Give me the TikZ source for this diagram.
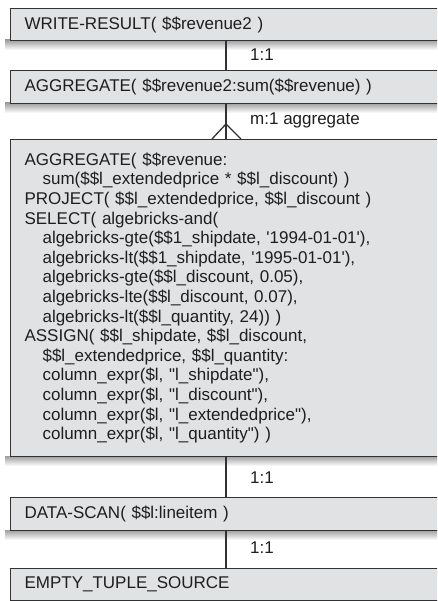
\documentclass[tikz,border=0pt]{standalone}
\usepackage{fontspec}
\setmainfont{Liberation Sans}[Ligatures=TeXOff]
\definecolor{boxfill}{RGB}{225,226,228}
\definecolor{boxline}{RGB}{50,50,52}
\definecolor{txt}{RGB}{30,30,30}
\begin{document}
\begin{tikzpicture}[x=1pt,y=-1pt,
  opbox/.style={draw=boxline, line width=1.1pt, fill=boxfill, anchor=north west,
    minimum width=440pt, text width=420pt, align=left, inner xsep=14pt, inner ysep=0pt,
    font=\fontsize{17}{19.6}\selectfont, text=txt},
  lbl/.style={anchor=west, inner sep=0pt, font=\fontsize{17}{18}\selectfont, text=txt},
  conn/.style={draw=boxline, line width=1.3pt},
  shadowband/.style={top color=black!38, bottom color=white}
]
\useasboundingbox (0,0) rectangle (437,601);
\clip (0,0) rectangle (437,601);
% shadows
\shade[shadowband] (5,40) rectangle (450,50);
\shade[shadowband] (5,103) rectangle (450,113);
\shade[shadowband] (5,456) rectangle (450,466);
\shade[shadowband] (5,530) rectangle (450,540);
\coordinate (c) at (226,0);
% boxes
\node[opbox, minimum height=32pt] (b1) at (10,8) {WRITE-RESULT( \$\$revenue2 )};
\node[opbox, minimum height=33pt] (b2) at (10,70) {AGGREGATE( \$\$revenue2:sum(\$\$revenue) )};
\node[opbox, minimum height=317pt] (b3) at (10,139) {AGGREGATE( \$\$revenue:\\
\hspace*{18pt}sum(\$\$l\_extendedprice * \$\$l\_discount) )\\
PROJECT( \$\$l\_extendedprice, \$\$l\_discount )\\
SELECT( algebricks-and(\\
\hspace*{18pt}algebricks-gte(\$\$1\_shipdate, '1994-01-01'),\\
\hspace*{18pt}algebricks-lt(\$\$1\_shipdate, '1995-01-01'),\\
\hspace*{18pt}algebricks-gte(\$\$l\_discount, 0.05),\\
\hspace*{18pt}algebricks-lte(\$\$l\_discount, 0.07),\\
\hspace*{18pt}algebricks-lt(\$\$l\_quantity, 24)) )\\
ASSIGN( \$\$l\_shipdate, \$\$l\_discount,\\
\hspace*{18pt}\$\$l\_extendedprice, \$\$l\_quantity:\\
\hspace*{18pt}column\_expr(\$l, "l\_shipdate"),\\
\hspace*{18pt}column\_expr(\$l, "l\_discount"),\\
\hspace*{18pt}column\_expr(\$l, "l\_extendedprice"),\\
\hspace*{18pt}column\_expr(\$l, "l\_quantity") )};
\node[opbox, minimum height=33pt] (b4) at (10,497) {DATA-SCAN( \$\$l:lineitem )};
\node[opbox, minimum height=32pt] (b5) at (10,568) {EMPTY\_TUPLE\_SOURCE};
% connectors
\draw[conn] (b1.south -| c) -- (b2.north -| c);
\draw[conn] (b2.south -| c) -- (b3.north -| c);
\coordinate (apex) at (226,124);
\draw[conn] (apex) -- ([xshift=-14pt]b3.north -| c);
\draw[conn] (apex) -- ([xshift=15pt]b3.north -| c);
\draw[conn] (b3.south -| c) -- (b4.north -| c);
\draw[conn] (b4.south -| c) -- (b5.north -| c);
% labels
\node[lbl] (l1) at (250,55) {1:1};
\node[lbl] (l2) at (250,120) {m:1 aggregate};
\node[lbl] (l3) at (250,478) {1:1};
\node[lbl] (l4) at (250,548) {1:1};
\end{tikzpicture}
\end{document}
